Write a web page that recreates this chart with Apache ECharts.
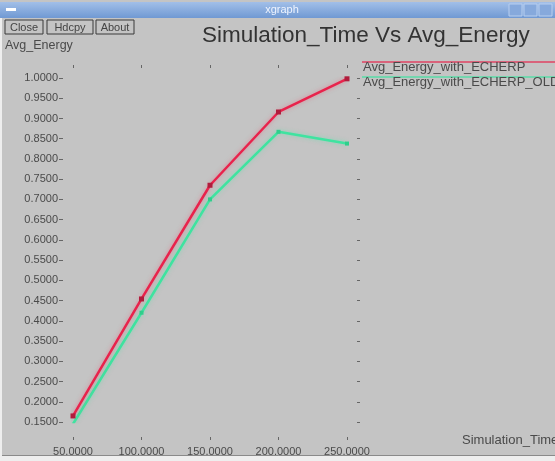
<!DOCTYPE html>
<html>
<head>
<meta charset="utf-8">
<script src="https://cdn.jsdelivr.net/npm/echarts@6/dist/echarts.min.js"></script>
<style>
  html, body { margin: 0; padding: 0; background: #c4c4c4; }
  #main { width: 555px; height: 461px; }
</style>
</head>
<body>
<div id="main"></div>
<script>
// data
const simTime = [50, 100, 150, 200, 250]
const energyEcherp = [0.165, 0.454, 0.735, 0.916, 0.998]
const energyEcherpOld = [0.145, 0.42, 0.70, 0.867, 0.838]
const seriesNames = ['Avg_Energy_with_ECHERP', 'Avg_Energy_with_ECHERP_OLD']
const seriesColors = ['#e8234c', '#3fe3a0']

const font = 'Liberation Sans, Arial, sans-serif'
const labelColor = '#4a4a4a'

const chart = echarts.init(document.getElementById('main'))

const pairs = (ys) => simTime.map((x, i) => [x, ys[i]])

// little window chrome + legend, xgraph style
const button = (x, w, label) => ({
  type: 'group',
  children: [
    { type: 'rect', shape: { x: x, y: 20, width: w, height: 14 }, style: { fill: 'none', stroke: '#3a3a3a', lineWidth: 1 } },
    { type: 'text', x: x + w / 2, y: 27.5, style: { text: label, fontSize: 11, fontFamily: font, fill: '#444', align: 'center', verticalAlign: 'middle' } }
  ]
})

const graphic = [
  { type: 'rect', shape: { x: 0, y: 2, width: 555, height: 16 },
    style: { fill: new echarts.graphic.LinearGradient(0, 0, 0, 1, [{ offset: 0, color: '#a2bfe8' }, { offset: 1, color: '#7099d3' }]) } },
  { type: 'rect', shape: { x: 6, y: 8, width: 10, height: 3 }, style: { fill: '#ffffff' } },
  { type: 'text', x: 282, y: 10, style: { text: 'xgraph', fontSize: 11, fontFamily: font, fill: '#eef4ff', align: 'center', verticalAlign: 'middle' } },
  { type: 'rect', shape: { x: 509, y: 4, width: 13, height: 12 }, style: { fill: '#86a9dc', stroke: '#b8cff0' } },
  { type: 'rect', shape: { x: 524, y: 4, width: 13, height: 12 }, style: { fill: '#86a9dc', stroke: '#b8cff0' } },
  { type: 'rect', shape: { x: 539, y: 4, width: 13, height: 12 }, style: { fill: '#86a9dc', stroke: '#b8cff0' } },
  { type: 'rect', shape: { x: 0, y: 18, width: 2, height: 443 }, style: { fill: '#eeeeee' } },
  { type: 'rect', shape: { x: 0, y: 456, width: 555, height: 5 }, style: { fill: '#eeeeee' } },
  { type: 'line', shape: { x1: 2, y1: 455.5, x2: 555, y2: 455.5 }, style: { stroke: '#8a8a8a', lineWidth: 1 } },
  button(5, 38, 'Close'),
  button(47, 46, 'Hdcpy'),
  button(96, 38, 'About'),
  { type: 'text', x: 5, y: 46, style: { text: 'Avg_Energy', fontSize: 12.5, fontFamily: font, fill: labelColor, verticalAlign: 'middle' } },
  { type: 'text', x: 462, y: 440, style: { text: 'Simulation_Time', fontSize: 13, fontFamily: font, fill: labelColor, verticalAlign: 'middle' } }
]

seriesNames.forEach((name, i) => {
  const ly = 62 + i * 15
  graphic.push({ type: 'line', shape: { x1: 362, y1: ly, x2: 555, y2: ly }, style: { stroke: seriesColors[i], lineWidth: 1.5, opacity: 0.8 } })
  graphic.push({ type: 'text', x: 363, y: ly + 5, style: { text: name, fontSize: 13, fontFamily: font, fill: labelColor, verticalAlign: 'middle' } })
})

const tickStyle = { lineStyle: { color: '#666', width: 1 } }

const option = {
  backgroundColor: '#c4c4c4',
  animation: false,
  title: {
    text: 'Simulation_Time Vs Avg_Energy',
    left: 197,
    top: 19,
    textStyle: { fontSize: 22.5, fontWeight: 'normal', fontFamily: font, color: '#333' }
  },
  grid: { left: 73, right: 208, top: 78, bottom: 39 },
  xAxis: [
    {
      type: 'value', position: 'bottom', min: 50, max: 250, interval: 50, offset: 18,
      axisLine: { show: false },
      axisTick: { show: true, inside: true, length: 3, ...tickStyle },
      axisLabel: { margin: 6, fontSize: 11, fontFamily: font, color: labelColor, formatter: (v) => v.toFixed(4) },
      splitLine: { show: false }
    },
    {
      type: 'value', position: 'top', min: 50, max: 250, interval: 50, offset: 13,
      axisLine: { show: false },
      axisTick: { show: true, inside: true, length: 3, ...tickStyle },
      axisLabel: { show: false },
      splitLine: { show: false }
    }
  ],
  yAxis: [
    {
      type: 'value', position: 'left', min: 0.15, max: 1.0, interval: 0.05, offset: 10,
      axisLine: { show: false },
      axisTick: { show: true, length: 4, ...tickStyle },
      axisLabel: { margin: 5, fontSize: 11, fontFamily: font, color: labelColor, formatter: (v) => v.toFixed(4) },
      splitLine: { show: false }
    },
    {
      type: 'value', position: 'right', min: 0.15, max: 1.0, interval: 0.05, offset: 10,
      axisLine: { show: false },
      axisTick: { show: true, length: 3, ...tickStyle },
      axisLabel: { show: false },
      splitLine: { show: false }
    }
  ],
  series: [
    {
      name: seriesNames[0], type: 'line', data: pairs(energyEcherp),
      symbol: 'rect', symbolSize: 5,
      lineStyle: { color: seriesColors[0], width: 2.5, shadowColor: 'rgba(240,80,110,0.5)', shadowBlur: 4 },
      itemStyle: { color: '#b01c3c' },
      z: 3
    },
    {
      name: seriesNames[1], type: 'line', data: pairs(energyEcherpOld),
      symbol: 'rect', symbolSize: 4,
      lineStyle: { color: seriesColors[1], width: 2.5, shadowColor: 'rgba(80,230,170,0.5)', shadowBlur: 4 },
      itemStyle: { color: '#2fcf8c' },
      z: 2
    }
  ],
  graphic: graphic
}

chart.setOption(option)
</script>
</body>
</html>
